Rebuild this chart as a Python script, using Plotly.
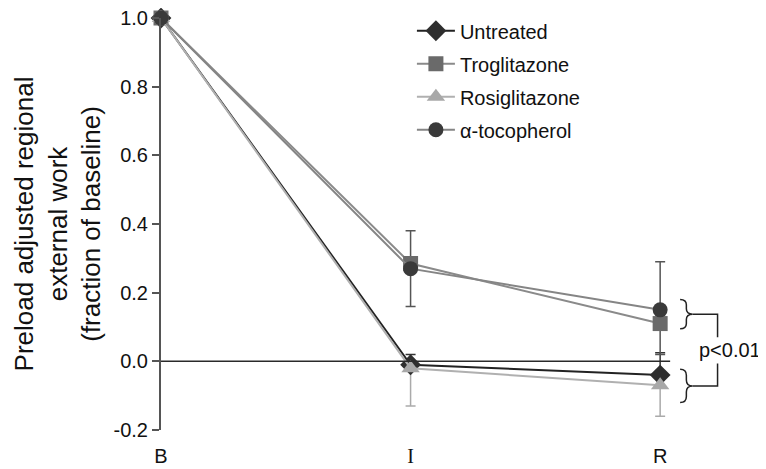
import plotly.graph_objects as go

# ---------------- data ----------------
timepoints = ["B", "I", "R"]
tick_labels = ["B", "<span style='font-family:Liberation Serif'>I</span>", "R"]
series_names = ["Untreated", "Troglitazone", "Rosiglitazone", "α-tocopherol"]

untreated = [1.0, -0.01, -0.04]
troglitazone = [1.0, 0.285, 0.11]
rosiglitazone = [1.0, -0.02, -0.07]
tocopherol = [1.0, 0.27, 0.15]

untreated_err_up = [0, 0.03, 0.065]
untreated_err_down = [0, 0, 0]
troglitazone_err_up = [0, 0.095, 0]
troglitazone_err_down = [0, 0, 0.09]
rosiglitazone_err_up = [0, 0, 0]
rosiglitazone_err_down = [0, 0.11, 0.09]
tocopherol_err_up = [0, 0, 0.14]
tocopherol_err_down = [0, 0.11, 0]

y_ticks = [-0.2, 0.0, 0.2, 0.4, 0.6, 0.8, 1.0]
y_tick_labels = ["-0.2", "0.0", "0.2", "0.4", "0.6", "0.8", "1.0"]

# ---------------- styling ----------------
FONT = "Liberation Sans, Arial, sans-serif"
styles = {
    "Untreated": dict(symbol="diamond", size=16, mcolor="#2e2e2e", lcolor="#222222", ecolor="#333333"),
    "Troglitazone": dict(symbol="square", size=15, mcolor="#6a6a6a", lcolor="#8a8a8a", ecolor="#555555"),
    "Rosiglitazone": dict(symbol="triangle-up", size=16, mcolor="#a8a8a8", lcolor="#b0b0b0", ecolor="#aaaaaa"),
    "α-tocopherol": dict(symbol="circle", size=15, mcolor="#3a3a3a", lcolor="#858585", ecolor="#555555"),
}
values = {
    "Untreated": (untreated, untreated_err_up, untreated_err_down),
    "Troglitazone": (troglitazone, troglitazone_err_up, troglitazone_err_down),
    "Rosiglitazone": (rosiglitazone, rosiglitazone_err_up, rosiglitazone_err_down),
    "α-tocopherol": (tocopherol, tocopherol_err_up, tocopherol_err_down),
}
xpos = list(range(len(timepoints)))

fig = go.Figure()

# error bars first (drawn beneath markers)
for name in series_names:
    y, up, dn = values[name]
    st = styles[name]
    idx = [i for i in xpos if up[i] > 0 or dn[i] > 0]
    fig.add_trace(go.Scatter(
        x=[xpos[i] for i in idx], y=[y[i] for i in idx], mode="markers",
        marker=dict(size=1, opacity=0), showlegend=False, hoverinfo="skip",
        error_y=dict(type="data", symmetric=False,
                     array=[up[i] for i in idx], arrayminus=[dn[i] for i in idx],
                     color=st["ecolor"], thickness=1.5, width=5),
        cliponaxis=False,
    ))

# lines + markers
for k, name in enumerate(series_names):
    y, up, dn = values[name]
    st = styles[name]
    fig.add_trace(go.Scatter(
        x=xpos, y=y, mode="lines+markers", name=name, legendgroup=f"g{k}",
        line=dict(color=st["lcolor"], width=2),
        marker=dict(symbol=st["symbol"], size=st["size"], color=st["mcolor"],
                    line=dict(width=0)),
        cliponaxis=False,
    ))

# zero line
fig.add_shape(type="line", xref="x", yref="y", x0=0, x1=2.04, y0=0, y1=0,
              line=dict(color="#2a2a2a", width=1.5))

# braces for significance
def brace(x0, x1, ytop, ybot):
    xm = (x0 + x1) / 2
    ymid = (ytop + ybot) / 2
    d = (ytop - ybot) * 0.18
    return (f"M {x0},{ytop} Q {xm},{ytop} {xm},{ytop - d} L {xm},{ymid + d} "
            f"Q {xm},{ymid} {x1},{ymid} Q {xm},{ymid} {xm},{ymid - d} "
            f"L {xm},{ybot + d} Q {xm},{ybot} {x0},{ybot}")

bx0, bx1 = 2.08, 2.13
upper_top, upper_bot = 0.18, 0.095
lower_top, lower_bot = -0.023, -0.12
for yt, yb in [(upper_top, upper_bot), (lower_top, lower_bot)]:
    fig.add_shape(type="path", xref="x", yref="y", path=brace(bx0, bx1, yt, yb),
                  line=dict(color="#222222", width=1.5))
xc = 2.23
um = (upper_top + upper_bot) / 2
lm = (lower_top + lower_bot) / 2
fig.add_shape(type="path", xref="x", yref="y",
              path=f"M {bx1},{um} L {xc},{um} L {xc},{0.07}",
              line=dict(color="#222222", width=1.5))
fig.add_shape(type="path", xref="x", yref="y",
              path=f"M {bx1},{lm} L {xc},{lm} L {xc},{-0.0065}",
              line=dict(color="#222222", width=1.5))
fig.add_annotation(x=2.28, y=0.032, xref="x", yref="y", text="p<0.01",
                   showarrow=False, xanchor="center",
                   font=dict(size=20, color="#111111", family=FONT))

fig.update_layout(
    width=758, height=461,
    margin=dict(l=153, r=16, t=10, b=39, autoexpand=False),
    plot_bgcolor="white", paper_bgcolor="white",
    font=dict(family=FONT, color="#111111", size=20),
    showlegend=True,
    legend=dict(x=0.426, y=0.993, xanchor="left", yanchor="top", yref="container",
                font=dict(size=20, family=FONT), tracegroupgap=4,
                itemwidth=38, bgcolor="rgba(0,0,0,0)"),
    xaxis=dict(range=[0, 2.36], tickvals=xpos, ticktext=tick_labels,
               showgrid=False, zeroline=False, showline=False, ticks="",
               ticklabelstandoff=12, tickfont=dict(size=20)),
    yaxis=dict(range=[-0.2, 1.0], tickvals=y_ticks, ticktext=y_tick_labels,
               showgrid=False, zeroline=False, ticklabeloverflow="allow",
               showline=True, linecolor="#555555", linewidth=2,
               ticks="outside", ticklen=7, tickcolor="#555555", tickwidth=1.5,
               tickfont=dict(size=20),
               title=dict(text="Preload adjusted regional<br>external work<br>(fraction of baseline)",
                          font=dict(size=26), standoff=5)),
)

fig.write_html("out.html")
